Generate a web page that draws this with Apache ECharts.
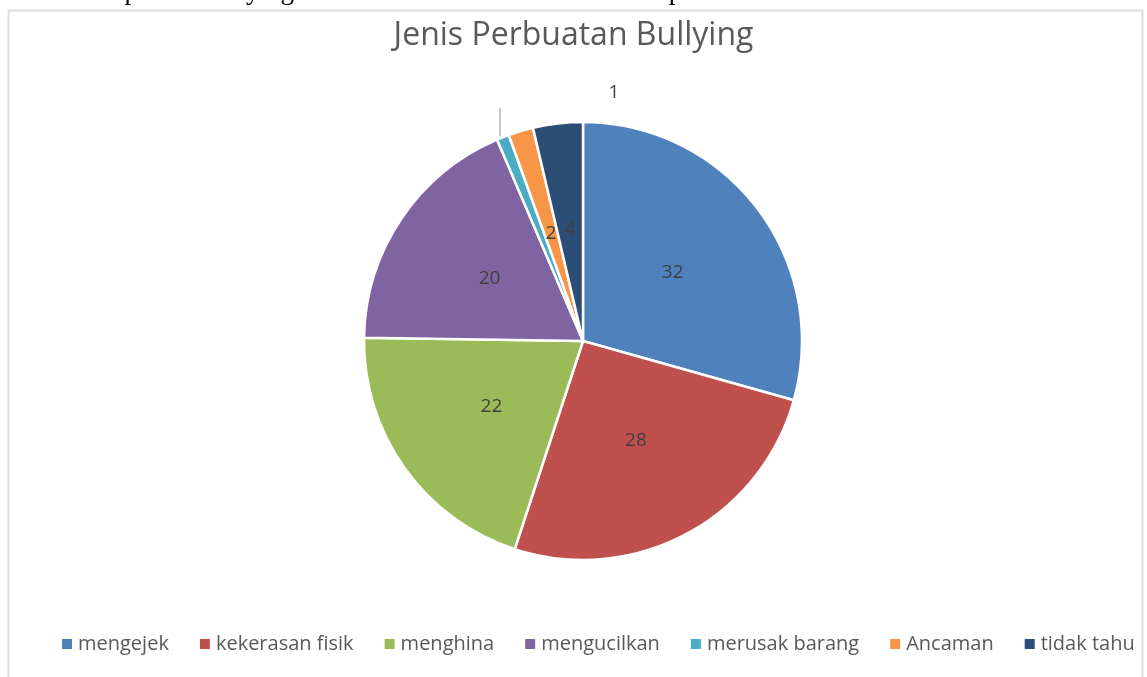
<!DOCTYPE html>
<html>
<head>
<meta charset="utf-8">
<script src="https://cdn.jsdelivr.net/npm/echarts@6/dist/echarts.min.js"></script>
<style>
html,body{margin:0;padding:0;background:#fff;}
#main{width:1147px;height:677px;}
</style>
</head>
<body>
<div id="main"></div>
<script>
var categories = ['mengejek', 'kekerasan fisik', 'menghina', 'mengucilkan', 'merusak barang', 'Ancaman', 'tidak tahu'];
var values = [32, 28, 22, 20, 1, 2, 4];
var colors = ['#4F81BD', '#C0504D', '#9BBB59', '#8064A2', '#4BACC6', '#F79646', '#2C4D75'];
var titleText = 'Jenis Perbuatan Bullying';
var captionText = 'at the examples of bullying that have occurred to all of the respondents.';

var chart = echarts.init(document.getElementById('main'));
var data = categories.map(function (c, i) {
  return { name: c, value: values[i], itemStyle: { color: colors[i] } };
});
chart.setOption({
  animation: false,
  backgroundColor: '#fff',
  graphic: [
    { type: 'rect', shape: { x: 8.5, y: 10.5, width: 1134, height: 680 }, style: { fill: '#fff', stroke: '#dcdcdc', lineWidth: 2 }, z: -10 },
    { type: 'text', left: 0, top: -22, style: { text: captionText, font: '27px "Liberation Serif"', fill: '#000' }, z: 5 },
    { type: 'line', shape: { x1: 500, y1: 108, x2: 500, y2: 136 }, style: { stroke: '#c8c8c8', lineWidth: 2 } }
  ],
  title: {
    text: titleText,
    left: 'center',
    top: 15,
    textStyle: { fontFamily: 'Open Sans', fontWeight: 'normal', fontSize: 32, color: '#595959' }
  },
  legend: {
    bottom: 18,
    left: 55,
    itemWidth: 12,
    itemHeight: 12,
    itemGap: 29,
    icon: 'rect',
    data: categories,
    textStyle: { fontFamily: 'Open Sans', fontSize: 20, color: '#595959' }
  },
  series: [{
    type: 'pie',
    center: [583, 341],
    radius: [0, 219],
    startAngle: 90,
    clockwise: true,
    avoidLabelOverlap: false,
    itemStyle: { borderColor: '#fff', borderWidth: 2.5 },
    label: {
      show: true,
      position: 'inside',
      formatter: '{c}',
      fontFamily: 'Open Sans',
      fontSize: 19,
      color: '#404040'
    },
    labelLayout: function (params) {
      if (params.dataIndex === 4) {
        return { x: 614, y: 93, align: 'center', verticalAlign: 'middle' };
      }
    },
    labelLine: { show: false },
    data: data
  }]
});
</script>
</body>
</html>
